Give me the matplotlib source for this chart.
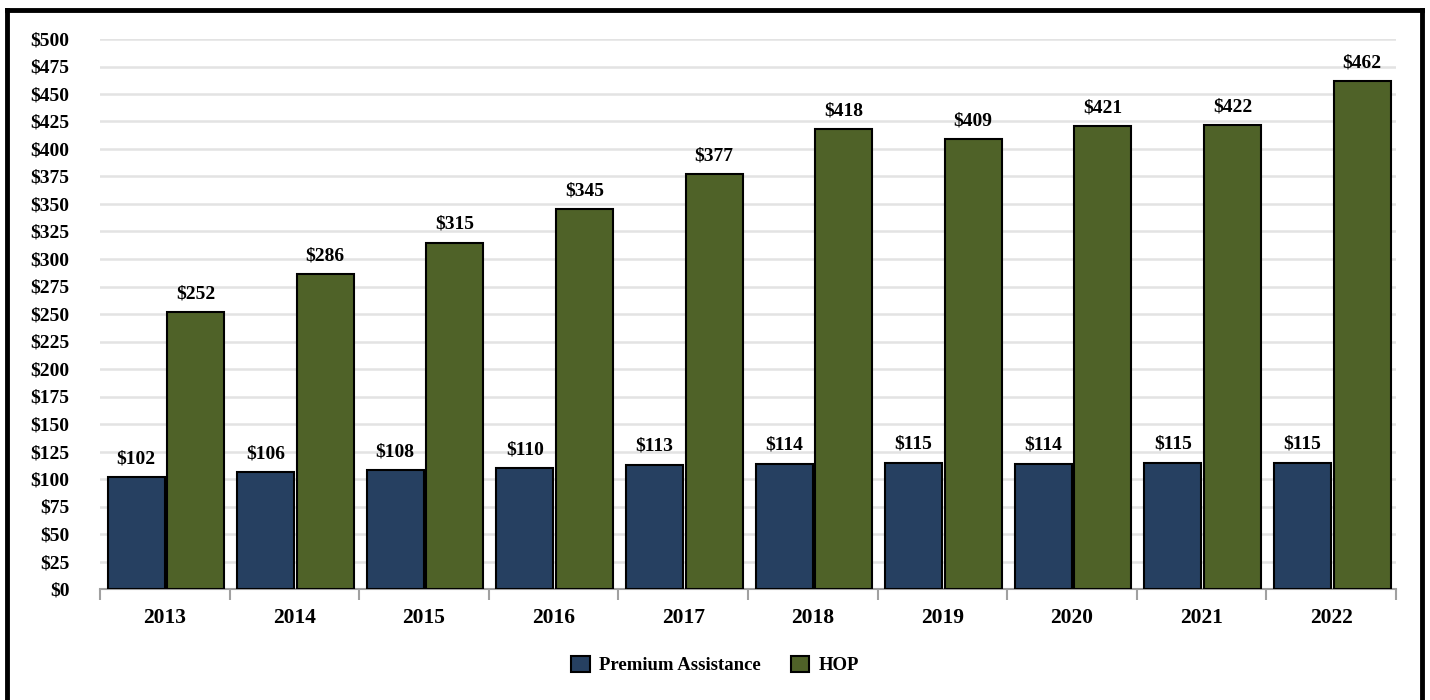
import matplotlib as mpl
mpl.use('Agg')
import matplotlib.pyplot as plt
from matplotlib.lines import Line2D
import numpy as np

years = ['2013', '2014', '2015', '2016', '2017', '2018', '2019', '2020', '2021', '2022']
premium = [102, 106, 108, 110, 113, 114, 115, 114, 115, 115]
hop = [252, 286, 315, 345, 377, 418, 409, 421, 422, 462]

blue = '#264061'
green = '#4f6228'

plt.rcParams['font.family'] = 'Liberation Serif'
plt.rcParams['font.weight'] = 'bold'

fig = plt.figure(figsize=(14.3, 7), dpi=100)
ax = fig.add_axes([100/1430, 1-589/700, 1296/1430, 550/700])

x = np.arange(len(years))
w = 0.44
b1 = ax.bar(x - 0.222, premium, w, color=blue, edgecolor='black', linewidth=1.5, label='Premium Assistance', zorder=3)
b2 = ax.bar(x + 0.238, hop, w, color=green, edgecolor='black', linewidth=1.5, label='HOP', zorder=3)

for bars, vals in [(b1, premium), (b2, hop)]:
    for r, v in zip(bars, vals):
        ax.annotate('$%d' % v, (r.get_x() + r.get_width()/2, v), xytext=(0, 7),
                    textcoords='offset points', ha='center', va='bottom',
                    fontsize=14, fontweight='bold')

ax.set_xlim(-0.5, len(years) - 0.5)
ax.set_ylim(0, 500)
ax.set_yticks(np.arange(0, 501, 25))
ax.set_yticklabels(['$%d' % v for v in range(0, 501, 25)], fontsize=14, fontweight='bold')
ax.tick_params(axis='y', length=0, pad=22)

ax.set_xticks(np.arange(-0.5, len(years), 1.0))
ax.set_xticklabels([])
ax.set_xticks(x, minor=True)
ax.set_xticklabels(years, minor=True, fontsize=15.5, fontweight='bold')
ax.tick_params(axis='x', which='major', length=8, color='#a0a0a0', width=1.5)
ax.tick_params(axis='x', which='minor', length=0, pad=14)

ax.grid(axis='y', color='#e3e3e3', linewidth=1.8, zorder=0)
for s in ['top', 'right', 'left']:
    ax.spines[s].set_visible(False)
ax.spines['bottom'].set_color('#a0a0a0')
ax.spines['bottom'].set_linewidth(1.5)

fig.legend(loc='center', bbox_to_anchor=(0.5, 1-665/700), ncol=2, frameon=False,
           prop={'size': 13.5, 'weight': 'bold'}, handlelength=1.0, handleheight=1.0,
           columnspacing=1.6, handletextpad=0.5)

# frame around figure
for xs, ys in [([6.5/1430, 6.5/1430], [0, 1-10/700]),
               ([6.5/1430, 1422/1430], [1-10/700, 1-10/700]),
               ([1422/1430, 1422/1430], [1-10/700, 0])]:
    fig.add_artist(Line2D(xs, ys, color='black', linewidth=3.5, solid_capstyle='projecting'))

fig.savefig('out.png', dpi=100)
